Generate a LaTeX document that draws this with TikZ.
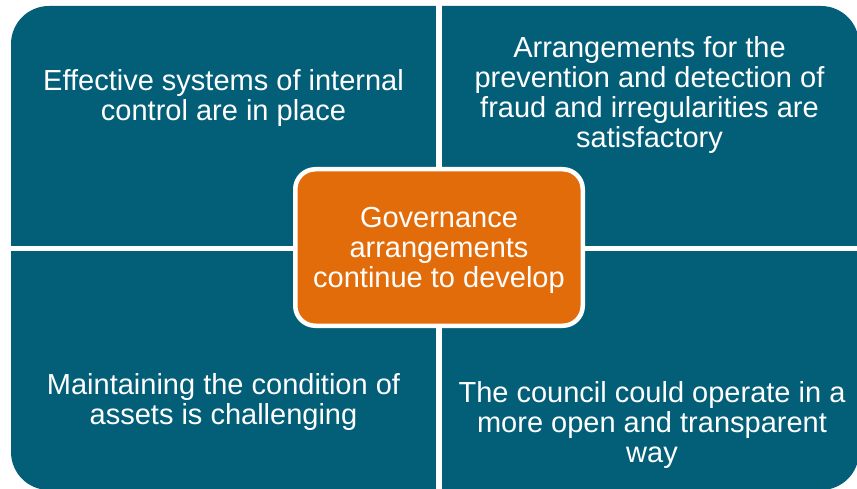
\documentclass[tikz,border=0pt]{standalone}
\usepackage{fontspec}
\setmainfont{Liberation Sans}
\definecolor{quadteal}{RGB}{3,95,120}
\definecolor{huborange}{RGB}{227,108,10}
\begin{document}
\begin{tikzpicture}[x=1pt,y=-1pt,
        quadtext/.style={text=white, align=center, font=\fontsize{29}{30}\selectfont},
        hub/.style={fill=huborange, draw=white, line width=4.5pt, rounded corners=20pt,
            minimum width=287.5pt, minimum height=156.5pt}]
    \useasboundingbox (0,0) rectangle (857,489);
    \clip (0,0) rectangle (857,489);
    \fill[white] (0,0) rectangle (857,489);

    % teal panel cut in four
    \fill[quadteal, rounded corners=38pt] (11,6) rectangle (859,490);
    \draw[white, line width=6pt] (439,0) -- (439,489);
    \draw[white, line width=5pt] (0,248.5) -- (857,248.5);

    \node[quadtext] (effective) at (223.5,98) {Effective systems of internal\\control are in place};
    \node[quadtext] (fraud) at (649.5,95.5) {Arrangements for the\\prevention and detection of\\fraud and irregularities are\\satisfactory};
    \node[quadtext] (assets) at (223.5,402.5) {Maintaining the condition of\\assets is challenging};
    \node[quadtext] (council) at (652,425.5) {The council could operate in a\\more open and transparent\\way};

    \node[hub, label={[quadtext, yshift=-3pt]center:Governance\\arrangements\\continue to develop}] (governance) at (439,247.5) {};
\end{tikzpicture}
\end{document}
